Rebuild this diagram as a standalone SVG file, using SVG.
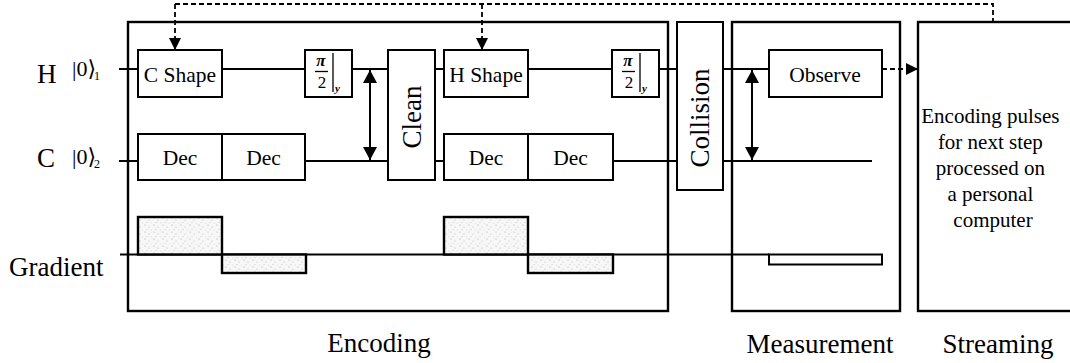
<svg xmlns="http://www.w3.org/2000/svg" width="1070" height="363" viewBox="0 0 1070 363">
<style>
.t{font-family:"Liberation Serif","DejaVu Serif",serif;fill:#000}
.box{fill:#fff;stroke:#000;stroke-width:2}
.frame{fill:none;stroke:#000;stroke-width:2.4}
.wire{stroke:#000;stroke-width:2;fill:none}
.dash{stroke:#000;stroke-width:1.8;fill:none;stroke-dasharray:5,3}
.grad{fill:url(#stip);stroke:#000;stroke-width:2.4}
</style>
<defs>
<marker id="ah" markerUnits="userSpaceOnUse" markerWidth="14" markerHeight="14" refX="13" refY="7" orient="auto-start-reverse">
<path d="M0,0 L13,7 L0,14 z" fill="#000"/>
</marker>
<marker id="ahd" markerUnits="userSpaceOnUse" markerWidth="12" markerHeight="12" refX="12" refY="6" orient="auto">
<path d="M0,0 L12,6 L0,12 z" fill="#000"/>
</marker>
<pattern id="stip" patternUnits="userSpaceOnUse" width="9" height="7">
<rect width="9" height="7" fill="#f7f7f7"/>
<circle cx="1" cy="1" r="0.5" fill="#999"/>
<circle cx="5" cy="3" r="0.5" fill="#aaa"/>
<circle cx="3" cy="5.5" r="0.45" fill="#999"/>
<circle cx="7.5" cy="6" r="0.4" fill="#bbb"/>
</pattern>
</defs>

<!-- stage frames -->
<g id="encoding-frame"><rect class="frame" x="128" y="22" width="540" height="289"/></g>
<g id="measurement-frame"><rect class="frame" x="732" y="22" width="168" height="289"/></g>

<!-- connectors / wires -->
<g id="connectors">
<line class="wire" x1="119" y1="69" x2="138" y2="69"/>
<line class="wire" x1="222" y1="69" x2="305" y2="69"/>
<line class="wire" x1="352" y1="69" x2="388" y2="69"/>
<line class="wire" x1="435" y1="69" x2="444" y2="69"/>
<line class="wire" x1="528" y1="69" x2="612" y2="69"/>
<line class="wire" x1="659" y1="69" x2="677" y2="69"/>
<line class="wire" x1="723" y1="69" x2="769" y2="69"/>
<line class="wire" x1="119" y1="161" x2="138" y2="161"/>
<line class="wire" x1="305" y1="161" x2="388" y2="161"/>
<line class="wire" x1="435" y1="161" x2="444" y2="161"/>
<line class="wire" x1="613" y1="161" x2="677" y2="161"/>
<line class="wire" x1="723" y1="161" x2="872" y2="161"/>
<line class="wire" x1="120" y1="254.5" x2="769" y2="254.5"/>
<line class="wire" x1="370" y1="70" x2="370" y2="160" marker-start="url(#ah)" marker-end="url(#ah)"/>
<line class="wire" x1="752" y1="70" x2="752" y2="160" marker-start="url(#ah)" marker-end="url(#ah)"/>
<polyline class="dash" points="175,4 993,4 993,22"/>
<line class="dash" x1="175" y1="4" x2="175" y2="50" marker-end="url(#ahd)"/>
<line class="dash" x1="482" y1="4" x2="482" y2="50" marker-end="url(#ahd)"/>
<line class="dash" x1="882" y1="69" x2="918" y2="69" marker-end="url(#ahd)"/>
</g>

<!-- encoding nodes -->
<g id="c-shape"><rect class="box" x="138" y="50" width="84" height="47"/><text class="t" x="180" y="82" font-size="21.5" text-anchor="middle">C Shape</text></g>
<g id="pi2-1">
<rect class="box" x="305" y="50" width="47" height="47"/>
<text class="t" x="321" y="66" font-size="17" font-weight="bold" font-style="italic" text-anchor="middle">π</text>
<line x1="315" y1="71.5" x2="328" y2="71.5" stroke="#000" stroke-width="1.3"/>
<text class="t" x="322" y="88" font-size="17" text-anchor="middle">2</text>
<line x1="333" y1="53" x2="333" y2="92" stroke="#000" stroke-width="1.3"/>
<text class="t" x="335" y="92" font-size="11" font-weight="bold" font-style="italic">y</text>
</g>
<g id="dec-1"><rect class="box" x="138" y="134" width="84" height="46"/><text class="t" x="180" y="165" font-size="21.5" text-anchor="middle">Dec</text></g>
<g id="dec-2"><rect class="box" x="222" y="134" width="83" height="46"/><text class="t" x="263.5" y="165" font-size="21.5" text-anchor="middle">Dec</text></g>
<g id="clean"><rect class="box" x="388" y="50" width="47" height="130"/><text class="t" font-size="27" text-anchor="middle" transform="translate(421,117) rotate(-90)">Clean</text></g>
<g id="h-shape"><rect class="box" x="444" y="50" width="84" height="47"/><text class="t" x="486" y="82" font-size="21.5" text-anchor="middle">H Shape</text></g>
<g id="dec-3"><rect class="box" x="444" y="134" width="84" height="46"/><text class="t" x="486" y="165" font-size="21.5" text-anchor="middle">Dec</text></g>
<g id="dec-4"><rect class="box" x="528" y="134" width="85" height="46"/><text class="t" x="570.5" y="165" font-size="21.5" text-anchor="middle">Dec</text></g>
<g id="pi2-2">
<rect class="box" x="612" y="50" width="47" height="47"/>
<text class="t" x="628" y="66" font-size="17" font-weight="bold" font-style="italic" text-anchor="middle">π</text>
<line x1="622" y1="71.5" x2="635" y2="71.5" stroke="#000" stroke-width="1.3"/>
<text class="t" x="629" y="88" font-size="17" text-anchor="middle">2</text>
<line x1="640" y1="53" x2="640" y2="92" stroke="#000" stroke-width="1.3"/>
<text class="t" x="642" y="92" font-size="11" font-weight="bold" font-style="italic">y</text>
</g>

<!-- gradient pulses -->
<g id="gradient-pulses">
<rect class="grad" x="138" y="217" width="84" height="37.5"/>
<rect class="grad" x="222" y="254.5" width="84" height="18.5"/>
<rect class="grad" x="444" y="217" width="84" height="37.5"/>
<rect class="grad" x="528" y="254.5" width="85" height="18.5"/>
<rect class="box" x="769" y="254.5" width="113" height="10" stroke-width="1.8"/>
</g>

<!-- collision -->
<g id="collision"><rect class="box" x="677" y="22" width="46" height="168"/><text class="t" font-size="27" text-anchor="middle" transform="translate(709,118) rotate(-90)">Collision</text></g>

<!-- measurement -->
<g id="observe"><rect class="box" x="769" y="50" width="113" height="47"/><text class="t" x="825" y="82" font-size="21.5" text-anchor="middle">Observe</text></g>

<!-- streaming -->
<g id="streaming">
<rect class="frame" x="918" y="22" width="160" height="289"/>
<text class="t" font-size="21" text-anchor="middle">
<tspan x="993" y="123">Encoding pulses</tspan>
<tspan x="993" y="149">for next step</tspan>
<tspan x="993" y="175">processed on</tspan>
<tspan x="993" y="201">a personal</tspan>
<tspan x="993" y="227">computer</tspan>
</text>
</g>

<!-- row labels -->
<g id="labels">
<text class="t" x="37" y="83" font-size="27">H</text>
<text class="t" x="72" y="76" font-size="22">|0⟩</text>
<text class="t" x="94" y="80" font-size="12">1</text>
<text class="t" x="37" y="167" font-size="27">C</text>
<text class="t" x="72" y="164" font-size="22">|0⟩</text>
<text class="t" x="94" y="168" font-size="12">2</text>
<text class="t" x="9" y="276" font-size="27">Gradient</text>
<text class="t" x="379" y="352" font-size="27" text-anchor="middle">Encoding</text>
<text class="t" x="820" y="353" font-size="27" text-anchor="middle">Measurement</text>
<text class="t" x="998" y="353" font-size="27" text-anchor="middle">Streaming</text>
</g>
</svg>
